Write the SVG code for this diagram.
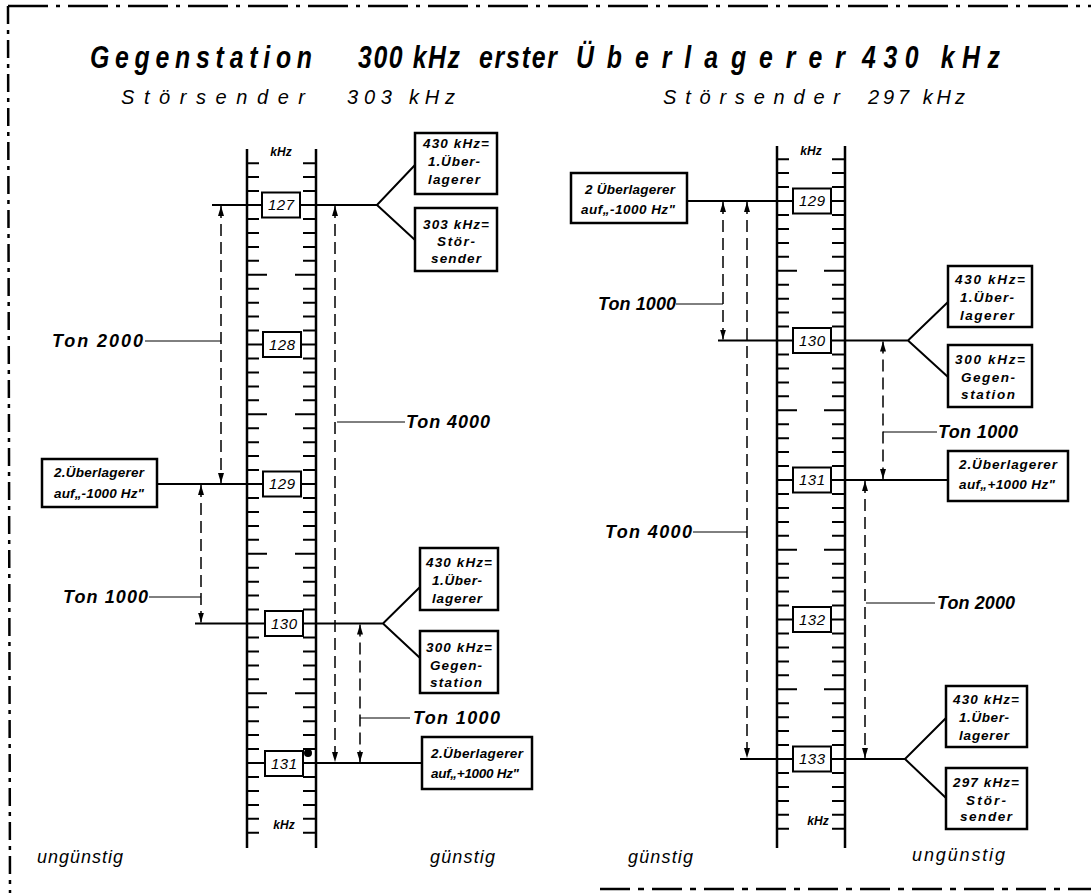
<svg xmlns="http://www.w3.org/2000/svg" width="1091" height="893" viewBox="0 0 1091 893">
<defs>
<style>
text{font-family:"Liberation Sans","DejaVu Sans",sans-serif;font-style:italic;fill:#000}
.title{font-size:31px;font-weight:bold}
.sub{font-size:20px}
.ton{font-size:18px;font-weight:bold}
.bt{font-size:13.5px;font-weight:bold;text-anchor:middle}
.num{font-size:15px;text-anchor:middle}
.unit{font-size:12px;font-weight:bold;text-anchor:middle}
.foot{font-size:18px}
.rail{stroke:#000;stroke-width:2.5;fill:none}
.tick{stroke:#000;stroke-width:2;fill:none}
.main{stroke:#000;stroke-width:2;fill:none}
.lead{stroke:#000;stroke-width:1;fill:none}
.dash{stroke:#000;stroke-width:1.5;stroke-dasharray:12 6;fill:none;marker-start:url(#ah);marker-end:url(#ah)}
.box{fill:#fff;stroke:#000;stroke-width:2.5}
.nbox{fill:#fff;stroke:#000;stroke-width:2}
.border{stroke:#000;stroke-width:2.5;fill:none}
</style>
<marker id="ah" markerUnits="userSpaceOnUse" markerWidth="10" markerHeight="8" refX="10" refY="3" orient="auto-start-reverse">
<path d="M0,0 L10,3 L0,6 z" fill="#000"/>
</marker>
</defs>
<rect width="1091" height="893" fill="#fff"/>

<g id="border">
<path class="border" d="M8,6 H1091" stroke-dasharray="40 8 4 8"/>
<path class="border" d="M8,6 L10,893" stroke-dasharray="18 6 4 6"/>
<path class="border" d="M600,889 H1091" stroke-dasharray="30 8 6 8"/>
</g>

<g id="title">
<text class="title" transform="translate(90,68) scale(0.8,1)" textLength="277.5" lengthAdjust="spacing">Gegenstation</text>
<text class="title" transform="translate(358,68) scale(0.8,1)" textLength="127.5" lengthAdjust="spacing">300 kHz</text>
<text class="title" transform="translate(479,68) scale(0.8,1)" textLength="97.5" lengthAdjust="spacing">erster</text>
<text class="title" transform="translate(576,68) scale(0.8,1)" textLength="336" lengthAdjust="spacing">Überlagerer</text>
<text class="title" transform="translate(862,68) scale(0.8,1)" textLength="172.5" lengthAdjust="spacing">430 kHz</text>
<text class="sub" x="121" y="104" textLength="184" lengthAdjust="spacing">Störsender</text>
<text class="sub" x="347" y="104" textLength="108" lengthAdjust="spacing">303 kHz</text>
<text class="sub" x="663" y="104" textLength="177" lengthAdjust="spacing">Störsender</text>
<text class="sub" x="868" y="104" textLength="97" lengthAdjust="spacing">297 kHz</text>
</g>

<g id="scale-left">
<path class="rail" d="M247,149 V848 M316,149 V848"/>
<path class="tick" d="M247 163.2h12M247 177.1h12M247 191h12M247 219h12M247 232.9h12M247 246.9h12M247 260.8h12M247 274.8h20M247 288.7h12M247 302.7h12M247 316.6h12M247 330.6h12M247 358.5h12M247 372.4h12M247 386.4h12M247 400.3h12M247 414.3h20M247 428.2h12M247 442.2h12M247 456.1h12M247 470h12M247 498h12M247 511.9h12M247 525.9h12M247 539.8h12M247 553.8h20M247 567.7h12M247 581.7h12M247 595.6h12M247 609.6h12M247 637.5h12M247 651.4h12M247 665.4h12M247 679.3h12M247 693.3h20M247 707.2h12M247 721.2h12M247 735.1h12M247 749h12M247 777h12M247 790.9h12M247 804.9h12M247 818.8h12M247 832.8h12"/>
<path class="tick" d="M316 163.2h-13M316 177.1h-13M316 191h-13M316 219h-13M316 232.9h-13M316 246.9h-13M316 260.8h-13M316 274.8h-21M316 288.7h-13M316 302.7h-13M316 316.6h-13M316 330.6h-13M316 358.5h-13M316 372.4h-13M316 386.4h-13M316 400.3h-13M316 414.3h-21M316 428.2h-13M316 442.2h-13M316 456.1h-13M316 470h-13M316 498h-13M316 511.9h-13M316 525.9h-13M316 539.8h-13M316 553.8h-21M316 567.7h-13M316 581.7h-13M316 595.6h-13M316 609.6h-13M316 637.5h-13M316 651.4h-13M316 665.4h-13M316 679.3h-13M316 693.3h-21M316 707.2h-13M316 721.2h-13M316 735.1h-13M316 749h-13M316 777h-13M316 790.9h-13M316 804.9h-13M316 818.8h-13M316 832.8h-13"/>
<text class="unit" x="281" y="156">kHz</text>
<text class="unit" x="284" y="829">kHz</text>
</g>

<g id="scale-right">
<path class="rail" d="M777,146 V848 M845,146 V848"/>
<path class="tick" d="M777 159.2h12M777 173.1h12M777 187h12M777 215h12M777 228.9h12M777 242.9h12M777 256.8h12M777 270.8h20M777 284.7h12M777 298.7h12M777 312.6h12M777 326.6h12M777 354.5h12M777 368.4h12M777 382.4h12M777 396.3h12M777 410.3h20M777 424.2h12M777 438.2h12M777 452.1h12M777 466h12M777 494h12M777 507.9h12M777 521.9h12M777 535.8h12M777 549.8h20M777 563.7h12M777 577.7h12M777 591.6h12M777 605.6h12M777 633.5h12M777 647.4h12M777 661.4h12M777 675.3h12M777 689.3h20M777 703.2h12M777 717.2h12M777 731.1h12M777 745h12M777 773h12M777 786.9h12M777 800.9h12M777 814.8h12M777 828.8h12"/>
<path class="tick" d="M845 159.2h-13M845 173.1h-13M845 187h-13M845 215h-13M845 228.9h-13M845 242.9h-13M845 256.8h-13M845 270.8h-21M845 284.7h-13M845 298.7h-13M845 312.6h-13M845 326.6h-13M845 354.5h-13M845 368.4h-13M845 382.4h-13M845 396.3h-13M845 410.3h-21M845 424.2h-13M845 438.2h-13M845 452.1h-13M845 466h-13M845 494h-13M845 507.9h-13M845 521.9h-13M845 535.8h-13M845 549.8h-21M845 563.7h-13M845 577.7h-13M845 591.6h-13M845 605.6h-13M845 633.5h-13M845 647.4h-13M845 661.4h-13M845 675.3h-13M845 689.3h-21M845 703.2h-13M845 717.2h-13M845 731.1h-13M845 745h-13M845 773h-13M845 786.9h-13M845 800.9h-13M845 814.8h-13M845 828.8h-13"/>
<text class="unit" x="811" y="155">kHz</text>
<text class="unit" x="818" y="825">kHz</text>
</g>

<g id="connectors">
<path class="main" d="M212,205 H377 L415,165 M377,205 L415,240"/>
<path class="main" d="M247,344.5 H316"/>
<path class="main" d="M157,484 H316"/>
<path class="main" d="M195,623.5 H383 L420,587 M383,623.5 L420,658"/>
<path class="main" d="M247,763 H422"/>
<path class="main" d="M687,201 H845"/>
<path class="main" d="M718,340.5 H908 L948,302 M908,340.5 L948,377"/>
<path class="main" d="M777,480 H948"/>
<path class="main" d="M777,619.5 H845"/>
<path class="main" d="M740,759 H905 L946,718 M905,759 L946,798"/>
<path class="dash" d="M221,206 V483"/>
<path class="dash" d="M335,206 V762"/>
<path class="dash" d="M201,485 V622.5"/>
<path class="dash" d="M360,624.5 V762"/>
<path class="dash" d="M723,202 V339.5"/>
<path class="dash" d="M747,202 V758"/>
<path class="dash" d="M883,341.5 V479"/>
<path class="dash" d="M865,481 V758"/>
<path class="lead" d="M145,341 H221 M337,422 H405 M149,597 H201 M360,718 H410"/>
<path class="lead" d="M676,304 H723 M693,532 H747 M883,432 H937 M866,603 H935"/>
<circle cx="308" cy="753" r="4" fill="#000"/>
</g>

<g id="n127"><rect class="nbox" x="262" y="192.5" width="38" height="25"/><text class="num" x="281" y="210" textLength="26" lengthAdjust="spacing">127</text></g>
<g id="n128"><rect class="nbox" x="263" y="332" width="38" height="25"/><text class="num" x="282" y="349.5" textLength="26" lengthAdjust="spacing">128</text></g>
<g id="n129l"><rect class="nbox" x="263" y="471.5" width="38" height="25"/><text class="num" x="282" y="489" textLength="26" lengthAdjust="spacing">129</text></g>
<g id="n130l"><rect class="nbox" x="265" y="611" width="38" height="25"/><text class="num" x="284" y="628.5" textLength="26" lengthAdjust="spacing">130</text></g>
<g id="n131l"><rect class="nbox" x="265" y="751" width="38" height="25"/><text class="num" x="284" y="768.5" textLength="26" lengthAdjust="spacing">131</text></g>

<g id="n129r"><rect class="nbox" x="793" y="188.5" width="38" height="25"/><text class="num" x="812" y="206" textLength="26" lengthAdjust="spacing">129</text></g>
<g id="n130r"><rect class="nbox" x="793" y="328" width="38" height="25"/><text class="num" x="812" y="345.5" textLength="26" lengthAdjust="spacing">130</text></g>
<g id="n131r"><rect class="nbox" x="793" y="467.5" width="38" height="25"/><text class="num" x="812" y="485" textLength="26" lengthAdjust="spacing">131</text></g>
<g id="n132r"><rect class="nbox" x="793" y="607" width="38" height="25"/><text class="num" x="812" y="624.5" textLength="26" lengthAdjust="spacing">132</text></g>
<g id="n133r"><rect class="nbox" x="793" y="746.5" width="38" height="25"/><text class="num" x="812" y="764" textLength="26" lengthAdjust="spacing">133</text></g>

<g id="bL1"><rect class="box" x="415" y="133" width="82" height="61"/>
<text class="bt" x="456" y="148" textLength="66" lengthAdjust="spacing">430 kHz=</text>
<text class="bt" x="454" y="166" textLength="52" lengthAdjust="spacing">1.Über-</text>
<text class="bt" x="454" y="184" textLength="52" lengthAdjust="spacing">lagerer</text></g>
<g id="bL2"><rect class="box" x="415" y="208" width="82" height="63"/>
<text class="bt" x="456" y="229" textLength="66" lengthAdjust="spacing">303 kHz=</text>
<text class="bt" x="456" y="246" textLength="38" lengthAdjust="spacing">Stör-</text>
<text class="bt" x="456" y="263" textLength="50" lengthAdjust="spacing">sender</text></g>
<g id="bL3"><rect class="box" x="42" y="459" width="115" height="48"/>
<text class="bt" x="99" y="477" textLength="90" lengthAdjust="spacing">2.Überlagerer</text>
<text class="bt" x="99" y="498" textLength="90" lengthAdjust="spacing">auf„-1000 Hz"</text></g>
<g id="bL4"><rect class="box" x="420" y="548" width="78" height="62"/>
<text class="bt" x="459" y="567" textLength="66" lengthAdjust="spacing">430 kHz=</text>
<text class="bt" x="457" y="585" textLength="50" lengthAdjust="spacing">1.Über-</text>
<text class="bt" x="457" y="603" textLength="50" lengthAdjust="spacing">lagerer</text></g>
<g id="bL5"><rect class="box" x="420" y="631" width="78" height="62"/>
<text class="bt" x="459" y="652" textLength="66" lengthAdjust="spacing">300 kHz=</text>
<text class="bt" x="456" y="670" textLength="52" lengthAdjust="spacing">Gegen-</text>
<text class="bt" x="456" y="687" textLength="52" lengthAdjust="spacing">station</text></g>
<g id="bL6"><rect class="box" x="422" y="737" width="110" height="52"/>
<text class="bt" x="477" y="758" textLength="92" lengthAdjust="spacing">2.Überlagerer</text>
<text class="bt" x="475" y="778" textLength="88" lengthAdjust="spacing">auf„+1000 Hz"</text></g>

<g id="bR1"><rect class="box" x="571" y="173" width="116" height="50"/>
<text class="bt" x="630" y="194" textLength="90" lengthAdjust="spacing">2 Überlagerer</text>
<text class="bt" x="628" y="214" textLength="94" lengthAdjust="spacing">auf„-1000 Hz"</text></g>
<g id="bR2"><rect class="box" x="948" y="266" width="84" height="61"/>
<text class="bt" x="990" y="284" textLength="70" lengthAdjust="spacing">430 kHz=</text>
<text class="bt" x="987" y="302" textLength="54" lengthAdjust="spacing">1.Über-</text>
<text class="bt" x="987" y="320" textLength="54" lengthAdjust="spacing">lagerer</text></g>
<g id="bR3"><rect class="box" x="948" y="345" width="84" height="62"/>
<text class="bt" x="990" y="364" textLength="70" lengthAdjust="spacing">300 kHz=</text>
<text class="bt" x="988" y="382" textLength="54" lengthAdjust="spacing">Gegen-</text>
<text class="bt" x="988" y="399" textLength="54" lengthAdjust="spacing">station</text></g>
<g id="bR4"><rect class="box" x="948" y="451" width="120" height="50"/>
<text class="bt" x="1008" y="469" textLength="98" lengthAdjust="spacing">2.Überlagerer</text>
<text class="bt" x="1007" y="489" textLength="96" lengthAdjust="spacing">auf„+1000 Hz"</text></g>
<g id="bR5"><rect class="box" x="946" y="686" width="81" height="61"/>
<text class="bt" x="986" y="704" textLength="66" lengthAdjust="spacing">430 kHz=</text>
<text class="bt" x="984" y="722" textLength="50" lengthAdjust="spacing">1.Über-</text>
<text class="bt" x="984" y="740" textLength="50" lengthAdjust="spacing">lagerer</text></g>
<g id="bR6"><rect class="box" x="946" y="768" width="81" height="61"/>
<text class="bt" x="986" y="787" textLength="66" lengthAdjust="spacing">297 kHz=</text>
<text class="bt" x="986" y="805" textLength="40" lengthAdjust="spacing">Stör-</text>
<text class="bt" x="986" y="821" textLength="52" lengthAdjust="spacing">sender</text></g>

<g id="labels">
<text class="ton" x="52" y="347" textLength="91" lengthAdjust="spacing">Ton 2000</text>
<text class="ton" x="406" y="428" textLength="84" lengthAdjust="spacing">Ton 4000</text>
<text class="ton" x="63" y="603" textLength="85" lengthAdjust="spacing">Ton 1000</text>
<text class="ton" x="413" y="724" textLength="87" lengthAdjust="spacing">Ton 1000</text>
<text class="ton" x="598" y="310" textLength="78" lengthAdjust="spacing">Ton 1000</text>
<text class="ton" x="605" y="538" textLength="87" lengthAdjust="spacing">Ton 4000</text>
<text class="ton" x="938" y="438" textLength="80" lengthAdjust="spacing">Ton 1000</text>
<text class="ton" x="937" y="609" textLength="78" lengthAdjust="spacing">Ton 2000</text>
<text class="foot" x="37" y="863" textLength="86" lengthAdjust="spacing">ungünstig</text>
<text class="foot" x="430" y="863" textLength="65" lengthAdjust="spacing">günstig</text>
<text class="foot" x="628" y="863" textLength="65" lengthAdjust="spacing">günstig</text>
<text class="foot" x="912" y="861" textLength="93" lengthAdjust="spacing">ungünstig</text>
</g>
</svg>
